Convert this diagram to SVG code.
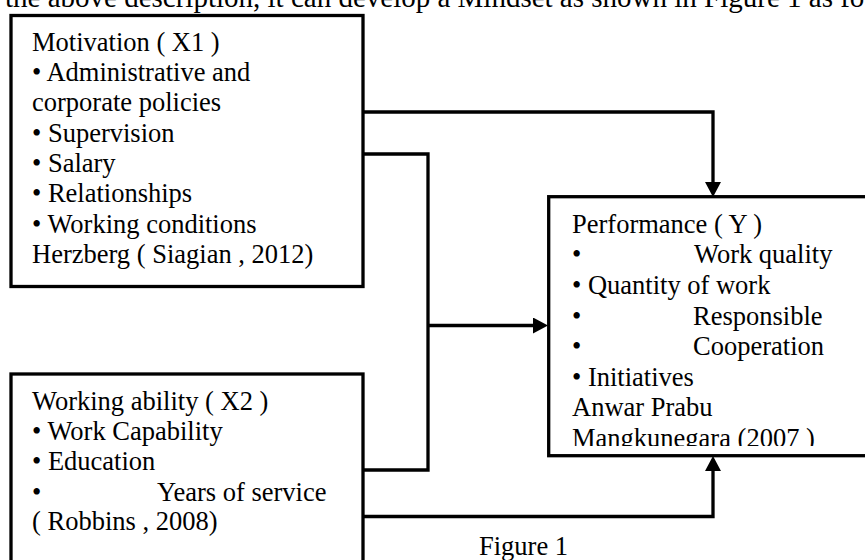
<svg xmlns="http://www.w3.org/2000/svg" width="865" height="560" viewBox="0 0 865 560">
<style>
text{font-family:"Liberation Serif","Times New Roman",serif;font-size:26.5px;fill:#000}
.box{fill:#fff;stroke:#000;stroke-width:3.3}
.conn{fill:none;stroke:#000;stroke-width:3.3}
</style>
<defs>
<marker id="arr" markerUnits="userSpaceOnUse" markerWidth="16" markerHeight="16" refX="0" refY="8" orient="auto" viewBox="0 0 16 16">
<path d="M0,0 L15,8 L0,16 Z" fill="#000"/>
</marker>
<clipPath id="clipY"><rect x="548" y="197" width="330" height="249"/></clipPath>
</defs>
<rect width="865" height="560" fill="#fff"/>
<text x="5" y="7" style="font-size:29px">the above description, it can develop a Mindset as shown in Figure 1 as fo</text>
<g id="connectors">
<path class="conn" d="M363,112 H713 V182" marker-end="url(#arr)"/>
<path class="conn" d="M363,154 H428 V470 H363"/>
<path class="conn" d="M428,325.5 H533" marker-end="url(#arr)"/>
<path class="conn" d="M363,516.5 H713 V471" marker-end="url(#arr)"/>
</g>
<g id="motivation">
<rect class="box" x="11" y="15.5" width="352" height="271"/>
<text x="32" y="51">Motivation ( X1 )</text>
<text x="32" y="81">• Administrative and</text>
<text x="32" y="111">corporate policies</text>
<text x="32" y="141.5">• Supervision</text>
<text x="32" y="171.5">• Salary</text>
<text x="32" y="202">• Relationships</text>
<text x="32" y="232.5">• Working conditions</text>
<text x="32" y="263">Herzberg ( Siagian , 2012)</text>
</g>
<g id="ability">
<rect class="box" x="11" y="374" width="352" height="200"/>
<text x="32" y="410">Working ability ( X2 )</text>
<text x="32" y="440">• Work Capability</text>
<text x="32" y="470">• Education</text>
<text x="32" y="500.5">•</text>
<text x="157" y="500.5">Years of service</text>
<text x="32" y="530">( Robbins , 2008)</text>
</g>
<g id="performance">
<rect class="box" x="548.7" y="196.7" width="330" height="259"/>
<g clip-path="url(#clipY)">
<text x="572" y="233">Performance ( Y )</text>
<text x="572" y="263">•</text>
<text x="694" y="263">Work quality</text>
<text x="572" y="293.5">• Quantity of work</text>
<text x="572" y="324.5">•</text>
<text x="693" y="324.5">Responsible</text>
<text x="572" y="355">•</text>
<text x="693" y="355">Cooperation</text>
<text x="572" y="385.5">• Initiatives</text>
<text x="572" y="416">Anwar Prabu</text>
<text x="572" y="446.5">Mangkunegara (2007 )</text>
</g>
</g>
<text x="479" y="555">Figure 1</text>
</svg>
